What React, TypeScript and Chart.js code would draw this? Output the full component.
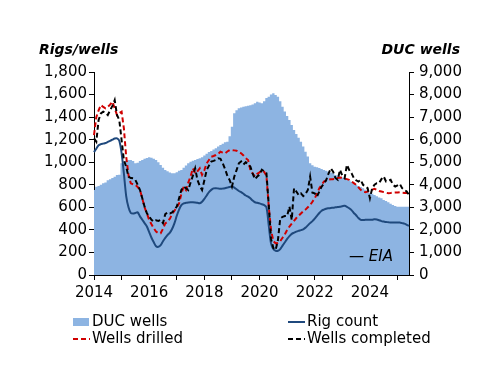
import React, { useEffect, useRef } from "react";
import { Chart, registerables } from "chart.js";

Chart.register(...registerables);

const startYear = 2014;
const monthCount = 138;

// Rig count (left axis), monthly Jan 2014 - Jun 2025
const rigCount = [
  1090, 1120, 1150, 1160, 1165, 1170, 1180, 1190, 1200, 1210, 1212, 1190,
  1080, 900, 700, 600, 550, 545, 550, 555, 520, 490, 460, 430,
  380, 330, 290, 255, 250, 265, 300, 330, 355, 375, 410, 460,
  525, 580, 620, 635, 640, 643, 645, 645, 643, 640, 637, 650,
  675, 705, 735, 755, 768, 770, 767, 764, 766, 770, 775, 780,
  785, 775, 760, 745, 735, 720, 705, 695, 680, 660, 645, 640,
  635, 627, 620, 600, 440, 280, 230, 215, 215, 230, 260, 290,
  320, 345, 365, 375, 385, 392, 398, 405, 420, 440, 460, 478,
  500, 525, 550, 570, 580, 588, 592, 595, 597, 600, 603, 606,
  610, 613, 605, 592, 575, 550, 530, 505, 489, 487, 489, 489,
  489, 490, 494, 492, 485, 478, 474, 470, 468, 465, 465, 465,
  465, 465, 460, 455, 445, 435,
];

// Wells drilled (left axis)
const wellsDrilled = [
  1240, 1400, 1460, 1507, 1490, 1478, 1490, 1510, 1537, 1478, 1419, 1436,
  1448, 1300, 1049, 887, 813, 805, 798, 780, 754, 680, 600, 547,
  488, 450, 414, 385, 370, 370, 410, 458, 473, 500, 540, 570,
  600, 635, 720, 783, 754, 820, 872, 946, 901, 920, 946, 887,
  930, 990, 1020, 1049, 1055, 1064, 1075, 1093, 1085, 1079, 1095, 1108,
  1108, 1105, 1102, 1090, 1079, 1060, 1036, 1020, 933, 900, 873, 897,
  910, 927, 915, 880, 607, 400, 300, 281, 285, 300, 330, 360,
  400, 430, 455, 480, 505, 525, 545, 565, 580, 600, 620, 650,
  680, 720, 770, 800, 828, 838, 845, 849, 850, 855, 860, 865,
  862, 855, 850, 844, 830, 815, 800, 778, 755, 740, 734, 740,
  749, 757, 764, 755, 745, 740, 735, 730, 725, 727, 730, 731,
  732, 734, 730, 728, 727, 725,
];

// Wells completed (left axis)
const wellsCompleted = [
  1211, 1182, 1374, 1433, 1448, 1440, 1419, 1460, 1500, 1551, 1419, 1374,
  1197, 1020, 960, 872, 860, 857, 842, 800, 754, 680, 606, 547,
  520, 490, 473, 485, 480, 488, 460, 540, 555, 547, 555, 580,
  606, 680, 754, 783, 770, 754, 820, 880, 946, 842, 790, 754,
  840, 930, 970, 1005, 1012, 1020, 1034, 1030, 990, 940, 880, 842,
  783, 872, 930, 990, 1007, 980, 1000, 980, 962, 900, 850, 873,
  890, 933, 920, 903, 620, 320, 239, 222, 310, 502, 515, 523,
  523, 606, 488, 769, 740, 709, 724, 700, 720, 754, 872, 730,
  724, 695, 740, 783, 810, 842, 900, 946, 916, 860, 844, 933,
  880, 859, 977, 930, 903, 859, 840, 829, 844, 800, 785, 770,
  681, 770, 800, 814, 814, 850, 873, 829, 836, 844, 800, 785,
  795, 808, 770, 755, 740, 711,
];

// DUC wells (right axis)
const ducWells = [
  3768, 3915, 3950, 4000, 4065, 4100, 4200, 4242, 4300, 4358, 4432, 4450,
  4952, 5026, 5060, 5098, 5098, 5050, 4952, 4980, 5050, 5098, 5150, 5190,
  5217, 5200, 5150, 5098, 5000, 4876, 4760, 4655, 4600, 4540, 4508, 4508,
  4560, 4620, 4655, 4750, 4850, 4950, 5024, 5060, 5100, 5140, 5172, 5220,
  5300, 5380, 5450, 5500, 5560, 5620, 5700, 5763, 5820, 5880, 5911, 6150,
  6574, 7167, 7300, 7390, 7430, 7460, 7480, 7500, 7530, 7560, 7610, 7683,
  7650, 7610, 7700, 7850, 7905, 8000, 8053, 7980, 7905, 7700, 7462, 7250,
  7050, 6871, 6650, 6428, 6250, 6080, 5911, 5700, 5467, 5250, 4950, 4870,
  4800, 4774, 4740, 4700, 4655, 4620, 4580, 4540, 4508, 4433, 4400, 4360,
  4320, 4285, 4240, 4200, 4130, 4065, 4000, 3950, 3900, 3843, 3780, 3720,
  3650, 3600, 3546, 3490, 3440, 3400, 3325, 3280, 3220, 3160, 3103, 3060,
  3029, 3029, 3029, 3029, 3029, 3029,
];

const leftTicks = { min: 0, max: 1800, step: 200 };
const rightTicks = { min: 0, max: 9000, step: 1000 };

const leftTitle = "Rigs/wells";
const rightTitle = "DUC wells";
const sourceNote = "\u2014 EIA";

const FONT = "'DejaVu Sans', sans-serif";
const COLORS = {
  duc: "#8DB4E2",
  rig: "#1F497D",
  drilled: "#D00000",
  completed: "#000000",
};

const labels: string[] = [];
for (let i = 0; i < monthCount; i++) {
  const y = startYear + Math.floor(i / 12);
  const m = (i % 12) + 1;
  labels.push(`${y}-${m < 10 ? "0" + m : m}`);
}

const overlayPlugin = {
  id: "overlay",
  afterDraw(chart: any) {
    const ctx = chart.ctx;
    const area = chart.chartArea;
    ctx.save();
    ctx.fillStyle = "#000";
    ctx.font = `italic bold 14px ${FONT}`;
    ctx.textBaseline = "alphabetic";
    ctx.textAlign = "left";
    ctx.fillText(leftTitle, 39, 54);
    ctx.textAlign = "right";
    ctx.fillText(rightTitle, 460, 54);

    ctx.font = `italic 15px ${FONT}`;
    ctx.textAlign = "right";
    ctx.textBaseline = "middle";
    ctx.fillText(sourceNote, area.right - 16, 257);

    // legend
    const ds = chart.data.datasets;
    const items = [
      { d: ds[3], x: 73, y: 322, kind: "box" },
      { d: ds[2], x: 288, y: 322, kind: "line" },
      { d: ds[1], x: 73, y: 339, kind: "line" },
      { d: ds[0], x: 288, y: 339, kind: "line" },
    ];
    ctx.font = `15px ${FONT}`;
    ctx.textAlign = "left";
    ctx.textBaseline = "middle";
    for (const it of items) {
      if (it.kind === "box") {
        ctx.fillStyle = it.d.backgroundColor;
        ctx.fillRect(it.x, it.y - 4, 16, 8);
      } else {
        ctx.strokeStyle = it.d.borderColor;
        ctx.lineWidth = 2;
        ctx.setLineDash(it.d.borderDash || []);
        ctx.beginPath();
        ctx.moveTo(it.x, it.y);
        ctx.lineTo(it.x + 17, it.y);
        ctx.stroke();
        ctx.setLineDash([]);
      }
      ctx.fillStyle = "#000";
      ctx.fillText(it.d.label, it.x + 19, it.y);
    }
    ctx.restore();
  },
};

export default function App() {
  const ref = useRef<HTMLCanvasElement | null>(null);
  useEffect(() => {
    if (!ref.current) return;
    const tickFont = { family: FONT, size: 15 };
    const chart = new Chart(ref.current, {
      type: "line",
      data: {
        labels,
        datasets: [
          {
            label: "Wells completed",
            data: wellsCompleted,
            yAxisID: "y",
            borderColor: COLORS.completed,
            borderDash: [5, 3],
            borderWidth: 2,
            pointRadius: 0,
            tension: 0,
            order: 1,
          },
          {
            label: "Wells drilled",
            data: wellsDrilled,
            yAxisID: "y",
            borderColor: COLORS.drilled,
            borderDash: [5, 3],
            borderWidth: 2,
            pointRadius: 0,
            tension: 0,
            order: 2,
          },
          {
            label: "Rig count",
            data: rigCount,
            yAxisID: "y",
            borderColor: COLORS.rig,
            borderWidth: 2,
            pointRadius: 0,
            tension: 0.3,
            order: 3,
          },
          {
            label: "DUC wells",
            data: ducWells,
            yAxisID: "y2",
            borderColor: COLORS.duc,
            backgroundColor: COLORS.duc,
            borderWidth: 0,
            pointRadius: 0,
            stepped: "middle",
            fill: "origin",
            order: 4,
          },
        ] as any,
      },
      options: {
        responsive: false,
        animation: false,
        events: [],
        layout: { padding: { left: 0, right: 0, top: 72, bottom: 81 } },
        plugins: {
          legend: { display: false },
          tooltip: { enabled: false },
        },
        scales: {
          x: {
            type: "category",
            offset: false,
            border: { display: true, color: "#000", width: 1 },
            grid: {
              drawOnChartArea: false,
              drawTicks: true,
              tickLength: 5,
              offset: false,
              color: (c: any) => (c.index % 12 === 0 ? "#000" : "rgba(0,0,0,0)"),
            },
            ticks: {
              autoSkip: false,
              maxRotation: 0,
              minRotation: 0,
              padding: 4,
              color: "#000",
              font: tickFont,
              callback: (_v: any, i: number) =>
                i % 24 === 0 ? String(startYear + i / 12) : "",
            },
            afterFit: (s: any) => {
              s.height = 30;
            },
          },
          y: {
            position: "left",
            min: leftTicks.min,
            max: leftTicks.max,
            border: { display: true, color: "#000", width: 1 },
            grid: { drawOnChartArea: false, drawTicks: true, tickLength: 5, color: "#000" },
            ticks: {
              stepSize: leftTicks.step,
              padding: 2,
              color: "#000",
              font: tickFont,
              callback: (v: any) => Number(v).toLocaleString("en-US"),
            },
            afterFit: (s: any) => {
              s.width = 94;
            },
          },
          y2: {
            position: "right",
            min: rightTicks.min,
            max: rightTicks.max,
            border: { display: true, color: "#000", width: 1 },
            grid: { drawOnChartArea: false, drawTicks: true, tickLength: 5, color: "#000" },
            ticks: {
              stepSize: rightTicks.step,
              padding: 5,
              color: "#000",
              font: tickFont,
              callback: (v: any) => Number(v).toLocaleString("en-US"),
            },
            afterFit: (s: any) => {
              s.width = 91;
            },
          },
        },
      } as any,
      plugins: [overlayPlugin],
    });
    return () => chart.destroy();
  }, []);
  return (
    <div style={{ position: "absolute", left: 0, top: 0, width: 500, height: 386, background: "#fff" }}>
      <canvas ref={ref} width={500} height={386} style={{ display: "block" }} />
    </div>
  );
}
